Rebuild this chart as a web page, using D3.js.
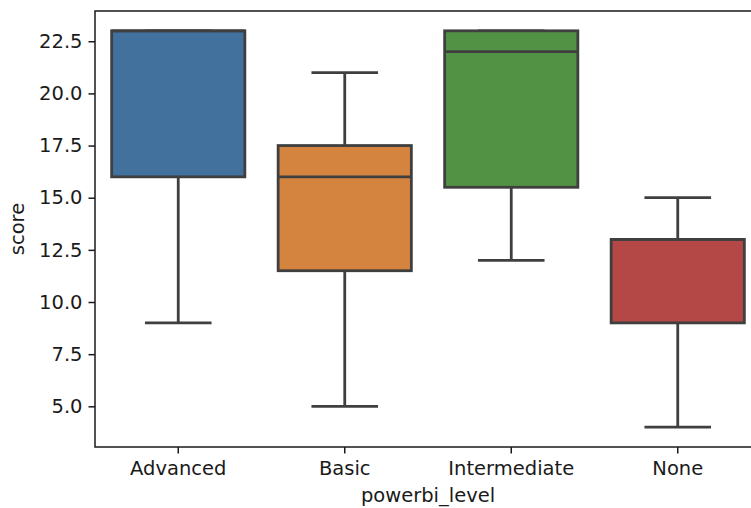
<!DOCTYPE html>
<html><head><meta charset="utf-8">
<script src="https://cdn.jsdelivr.net/npm/d3@7"></script>
<style>body{margin:0;background:#fff}svg{display:block}text{font-family:"DejaVu Sans",sans-serif;fill:#1a1a1a}</style>
</head><body>
<script>
const categories = ["Advanced","Basic","Intermediate","None"];
const whiskerLow = [9, 5, 12, 4];
const q1 = [16, 11.5, 15.5, 9];
const median = [23, 16, 22, 13];
const q3 = [23, 17.5, 23, 13];
const whiskerHigh = [23, 21, 23, 15];
const colors = ["#42719d","#d5843f","#529245","#b34846"];
const yTicks = [5.0, 7.5, 10.0, 12.5, 15.0, 17.5, 20.0, 22.5];

const W = 751, H = 508;
const m = {left: 95, right: -10, top: 11, bottom: 61};
const svg = d3.select("body").append("svg").attr("width", W).attr("height", H);
const x = d3.scaleBand().domain(categories).range([m.left, W - m.right]).paddingInner(0).paddingOuter(0);
const y = d3.scaleLinear().domain([3.05, 23.95]).range([H - m.bottom, m.top]);
const bw = x.bandwidth() * 0.8;
const edge = "#3f3f3f", lw = 2.8;

const g = svg.append("g");
categories.forEach((c, i) => {
  const cx = x(c) + x.bandwidth() / 2;
  const gg = g.append("g");
  gg.append("line").attr("x1", cx).attr("x2", cx).attr("y1", y(whiskerLow[i])).attr("y2", y(q1[i])).attr("stroke", edge).attr("stroke-width", lw);
  gg.append("line").attr("x1", cx).attr("x2", cx).attr("y1", y(whiskerHigh[i])).attr("y2", y(q3[i])).attr("stroke", edge).attr("stroke-width", lw);
  [whiskerLow[i], whiskerHigh[i]].forEach(v => {
    gg.append("line").attr("x1", cx - bw / 4).attr("x2", cx + bw / 4).attr("y1", y(v)).attr("y2", y(v)).attr("stroke", edge).attr("stroke-width", lw);
  });
  gg.append("rect").attr("x", cx - bw / 2).attr("width", bw).attr("y", y(q3[i])).attr("height", y(q1[i]) - y(q3[i]))
    .attr("fill", colors[i]).attr("stroke", edge).attr("stroke-width", lw);
  gg.append("line").attr("x1", cx - bw / 2).attr("x2", cx + bw / 2).attr("y1", y(median[i])).attr("y2", y(median[i])).attr("stroke", edge).attr("stroke-width", lw);
});

// axes
const yAxis = svg.append("g").attr("transform", `translate(${m.left},0)`)
  .call(d3.axisLeft(y).tickValues(yTicks).tickFormat(d3.format(".1f")).tickSize(6.5).tickPadding(6));
const xAxis = svg.append("g").attr("transform", `translate(0,${H - m.bottom})`)
  .call(d3.axisBottom(x).tickSize(6.5).tickPadding(8));
[yAxis, xAxis].forEach(a => {
  a.select(".domain").remove();
  a.selectAll("line").attr("stroke", "#1a1a1a").attr("stroke-width", 1.5);
  a.selectAll("text").style("font-size", "19.5px").attr("fill", "#1a1a1a");
});
// spines
svg.append("rect").attr("x", m.left).attr("y", m.top).attr("width", W - m.right - m.left).attr("height", H - m.bottom - m.top)
  .attr("fill", "none").attr("stroke", "#1a1a1a").attr("stroke-width", 1.5);

svg.append("text").attr("x", (m.left + W - m.right) / 2).attr("y", 502).attr("text-anchor", "middle").style("font-size", "19.5px").text("powerbi_level");
svg.append("text").attr("transform", `translate(24,${(m.top + H - m.bottom) / 2}) rotate(-90)`).attr("text-anchor", "middle").style("font-size", "19.5px").text("score");
</script>
</body></html>
